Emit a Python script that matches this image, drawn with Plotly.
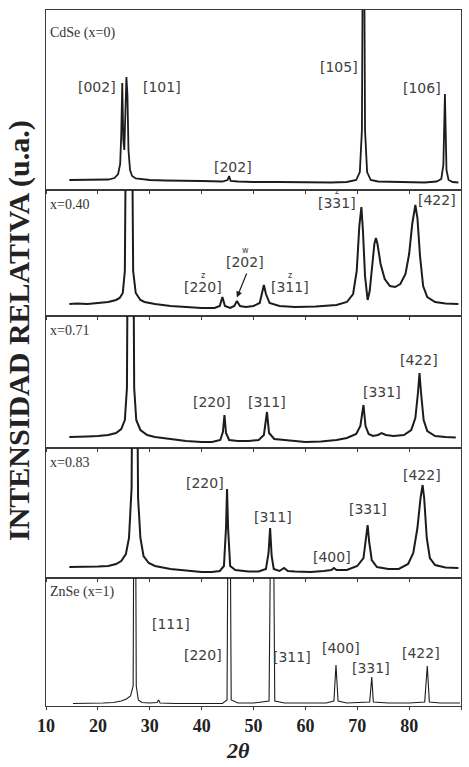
import plotly.graph_objects as go
from plotly.subplots import make_subplots

# ---------------- diffraction traces (2theta, relative intensity) ----------------
tt_cdse = [14.5, 16, 18, 20, 22, 23.2, 23.9, 24.3, 24.5, 24.7, 24.9, 25.1, 25.3, 25.5, 25.7, 25.9,
           26.2, 26.6, 27.3, 28.5, 30, 33, 36, 40, 44, 45.0, 45.3, 45.6, 47, 50, 55, 60, 65, 68,
           69.8, 70.5, 70.9, 71.2, 71.5, 71.9, 72.6, 74, 77, 80, 83, 85.3, 86.2, 86.6, 86.9, 87.2,
           87.6, 88.4, 89.5]
i_cdse = [10, 10, 10.5, 10, 10.5, 12, 16, 26, 55, 107, 50, 40, 70, 113, 95, 40,
          20, 14, 11.5, 10.5, 10, 9.5, 9, 9, 8.5, 10, 14, 9, 8.5, 8, 8, 7.5, 7.5, 8,
          10, 18, 60, 400, 60, 18, 10, 8.5, 8, 7.5, 7.5, 8.5, 11, 25, 96, 20,
          10, 8, 7.5]

tt_x040 = [14.5, 16, 18, 20, 22, 23.5, 24.2, 24.8, 25.2, 25.55, 26.45, 26.8, 27.3, 28.2, 29, 31,
           34, 37, 40, 42.5, 43.5, 44.0, 44.5, 45.5, 46.3, 46.8, 47.4, 48.5, 50, 51.2, 51.7, 52.0,
           52.4, 53.1, 55, 58, 62, 66, 68, 69.2, 69.9, 70.4, 70.8, 71.1, 71.5, 72.0, 72.4, 72.9,
           73.3, 73.6, 73.9, 74.5, 75.3, 76.3, 77.3, 78.3, 79.3, 80.0, 80.6, 81.2, 81.6, 82.1,
           82.7, 83.5, 85, 87, 89.5]
i_x040 = [12, 12.5, 12, 13, 14, 16, 18, 23, 45, 300, 300, 45, 23, 16, 14, 12,
          10, 9, 8, 8, 10, 19, 10, 8, 10, 15, 10, 9, 10, 13, 24, 31,
          22, 13, 10, 9, 9.5, 11, 14, 22, 45, 90, 109, 85, 40, 16, 25, 50,
          72, 78, 72, 52, 37, 30, 29, 32, 42, 62, 92, 111, 98, 60,
          30, 19, 14, 12.5, 12]

tt_x071 = [14.5, 16, 18, 20, 22, 23.5, 24.5, 25.2, 25.6, 25.85, 26.75, 27.0, 27.4, 28.2, 29.5, 31,
           34, 37, 40, 42, 43.6, 44.1, 44.4, 44.7, 45.3, 47, 49, 51, 52.0, 52.6, 53.0, 54, 56,
           58, 60, 63, 66, 68, 69.8, 70.6, 71.2, 71.6, 72.2, 73, 74, 74.7, 75.5, 77, 79, 80.4,
           81.2, 81.7, 82.0, 82.3, 82.8, 83.5, 85, 87, 89]
i_x071 = [11, 11, 11.5, 12, 13, 15, 19, 28, 60, 300, 300, 60, 28, 18, 13, 11,
          9, 7, 6, 6, 8, 16, 33, 15, 8, 7, 7, 8, 13, 36, 15, 9, 8,
          7, 6, 6.5, 8, 10, 14, 22, 43, 22, 14, 12, 13, 15, 13, 12, 13, 18,
          30, 55, 75, 55, 28, 17, 12, 11, 10.5]

tt_x083 = [14.5, 16, 18, 20, 22, 23.5, 24.5, 25.4, 26.0, 26.5, 26.75, 27.45, 27.75, 28.2, 28.8, 29.8,
           31, 34, 37, 40, 42, 43.5, 44.3, 44.7, 44.9, 45.1, 45.5, 46.5, 49, 51, 52.4, 52.9, 53.2,
           53.5, 53.9, 55, 55.9, 56.6, 58, 61, 63.5, 65, 65.5, 66, 68, 70, 71.2, 71.7, 72.0, 72.3,
           72.8, 73.8, 76, 78, 79.8, 80.8, 81.6, 82.2, 82.6, 82.9, 83.4, 84.0, 85, 87, 89.5]
i_x083 = [11, 11, 11, 11.5, 12, 14, 17, 24, 40, 90, 300, 300, 80, 40, 22, 15,
          12, 9, 7.5, 6, 6, 7, 12, 50, 89, 50, 12, 8, 6.5, 6.5, 9, 25, 50,
          22, 9, 7, 10, 7, 6.5, 6, 7, 8, 10, 8, 8, 12, 20, 38, 53, 36,
          18, 11, 9, 9, 14, 25, 50, 80, 93, 80, 40, 20, 13, 10.5, 10]

tt_znse = [15.2, 18, 21, 23, 24.5, 25.5, 26.3, 26.8, 27.0, 27.2, 27.4, 27.8, 28.5, 30, 31.4, 31.7,
           32.0, 35, 40, 44, 44.9, 45.2, 45.4, 45.7, 47, 50, 53.0, 53.5, 53.7, 54.1, 56, 60, 64,
           65.5, 65.9, 66.3, 68, 72.4, 72.8, 73.1, 76, 80, 83, 83.5, 83.9, 86, 89.8]
i_znse = [2.5, 2.5, 3, 3.5, 5, 7, 10, 20, 300, 300, 20, 6, 3.5, 3, 3.5, 6,
          3, 2.5, 2.5, 2.5, 6, 300, 300, 6, 3, 3, 5, 300, 300, 5, 3, 3, 3,
          5, 41, 5, 3, 4, 29, 4, 3, 3, 4, 40, 4, 3, 3]

panel_names = ["CdSe (x=0)", "x=0.40", "x=0.71", "x=0.83", "ZnSe (x=1)"]
panel_heights = [180, 126, 132, 130, 128]

# ---------------- reflection labels: (text, 2theta, height, accent) ----------------
hkl_cdse = [("[002]", 19.8, 103, ""), ("[101]", 32.4, 103, ""), ("[105]", 66.4, 123, ""),
            ("[106]", 82.5, 102, ""), ("[202]", 46.1, 23, "")]
hkl_x040 = [("[220]", 40.3, 29, "z"), ("[202]", 48.4, 54, "w"), ("[311]", 57.0, 29, "z"),
            ("[331]", 66.0, 113, "z"), ("[422]", 85.4, 116, "z")]
hkl_x071 = [("[220]", 42.0, 46, ""), ("[311]", 52.6, 46, ""), ("[331]", 74.7, 56, ""),
            ("[422]", 81.9, 88, "")]
hkl_x083 = [("[220]", 40.7, 95, ""), ("[311]", 53.7, 61, ""), ("[400]", 65.1, 21, ""),
            ("[331]", 72.0, 69, ""), ("[422]", 82.5, 103, "")]
hkl_znse = [("[111]", 34.0, 82, ""), ("[220]", 40.3, 51, ""), ("[311]", 57.4, 49, ""),
            ("[400]", 66.8, 58, ""), ("[331]", 72.7, 38, ""), ("[422]", 82.3, 53, "")]

x_ticks = [10, 20, 30, 40, 50, 60, 70, 80, 90]

traces = [(tt_cdse, i_cdse), (tt_x040, i_x040), (tt_x071, i_x071), (tt_x083, i_x083), (tt_znse, i_znse)]
labels = [hkl_cdse, hkl_x040, hkl_x071, hkl_x083, hkl_znse]
line_widths = [1.8, 2.0, 2.0, 2.0, 1.1]

fig = make_subplots(rows=5, cols=1, shared_xaxes=True, vertical_spacing=0,
                    row_heights=panel_heights)

FRAME = "#3a3a3a"
INK = "#1c1c1c"
LABEL = "#404040"

for k, ((tt, inten), hkls) in enumerate(zip(traces, labels)):
    row = k + 1
    yref = "y" if row == 1 else f"y{row}"
    xref = "x" if row == 1 else f"x{row}"
    fig.add_trace(go.Scatter(x=tt, y=inten, mode="lines",
                             line=dict(color=INK, width=line_widths[k]),
                             hoverinfo="skip", showlegend=False), row=row, col=1)
    fig.update_yaxes(range=[0, panel_heights[k]], showticklabels=False, ticks="",
                     showgrid=False, zeroline=False, showline=True, mirror=True,
                     linecolor=FRAME, linewidth=1, row=row, col=1)
    fig.add_annotation(text=panel_names[k], xref=xref, yref=yref, x=10.3,
                       y=panel_heights[k] - 14 if row != 1 else 157,
                       xanchor="left", yanchor="middle", showarrow=False,
                       font=dict(family="Liberation Serif", size=14, color="#333"))
    for text, xpos, ypos, acc in hkls:
        fig.add_annotation(text=text, xref=xref, yref=yref, x=xpos, y=ypos,
                           showarrow=False, xanchor="center", yanchor="middle",
                           font=dict(family="DejaVu Sans", size=14, color=LABEL))
        if acc:
            fig.add_annotation(text=acc, xref=xref, yref=yref, x=xpos, y=ypos + 12,
                               showarrow=False, xanchor="center", yanchor="middle",
                               font=dict(family="DejaVu Sans", size=8, color=LABEL))

# arrow pointing to the wurtzite [202] reflection
fig.add_annotation(x=46.8, y=18.5, ax=48.8, ay=44, xref="x2", yref="y2", axref="x2", ayref="y2",
                   text="", showarrow=True, arrowhead=2, arrowsize=1, arrowwidth=1.2,
                   arrowcolor=INK)

fig.update_xaxes(range=[10, 90], tickvals=x_ticks, ticks="outside", ticklen=3, tickwidth=1,
                 tickcolor=FRAME, showgrid=False, zeroline=False, showline=True, mirror=True,
                 linecolor=FRAME, linewidth=1)
fig.update_xaxes(showticklabels=True, ticktext=[str(v) for v in x_ticks],
                 tickfont=dict(family="Liberation Serif", size=18, color="#222", weight="bold"),
                 row=5, col=1)

# axis titles
fig.add_annotation(text="<b><i>2θ</i></b>", xref="paper", yref="paper",
                   x=(238 - 46) / 415, y=(706 - 750) / 696, showarrow=False,
                   xanchor="center", yanchor="middle",
                   font=dict(family="Liberation Serif", size=22, color="#222"))
fig.add_annotation(text="<b>INTENSIDAD RELATIVA (u.a.)</b>", xref="paper", yref="paper",
                   x=(19 - 46) / 415, y=(706 - 331) / 696, textangle=-90, showarrow=False,
                   xanchor="center", yanchor="middle",
                   font=dict(family="Liberation Serif", size=30, color="#222"))

fig.update_layout(width=469, height=767, margin=dict(l=46, r=8, t=10, b=61),
                  plot_bgcolor="white", paper_bgcolor="white")

fig.write_html("out.html")
